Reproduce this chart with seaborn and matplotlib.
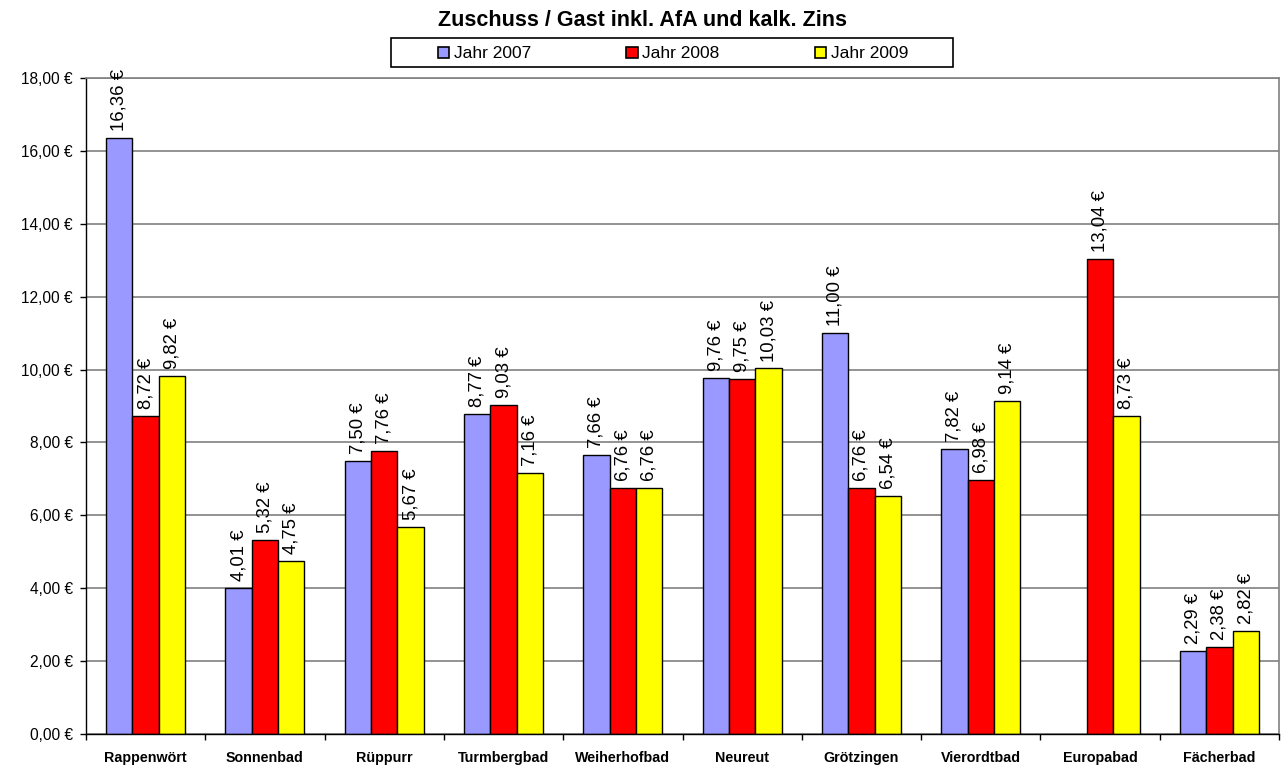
import matplotlib
matplotlib.use("Agg")
import matplotlib.pyplot as plt
from matplotlib.patches import Rectangle
import seaborn as sns
import pandas as pd
import numpy as np

categories = ["Rappenwört", "Sonnenbad", "Rüppurr", "Turmbergbad", "Weiherhofbad",
              "Neureut", "Grötzingen", "Vierordtbad", "Europabad", "Fächerbad"]
jahr_2007 = [16.36, 4.01, 7.50, 8.77, 7.66, 9.76, 11.00, 7.82, np.nan, 2.29]
jahr_2008 = [8.72, 5.32, 7.76, 9.03, 6.76, 9.75, 6.76, 6.98, 13.04, 2.38]
jahr_2009 = [9.82, 4.75, 5.67, 7.16, 6.76, 10.03, 6.54, 9.14, 8.73, 2.82]
series_names = ["Jahr 2007", "Jahr 2008", "Jahr 2009"]
colors = ["#9999FF", "#FF0000", "#FFFF00"]
yticks = [0, 2, 4, 6, 8, 10, 12, 14, 16, 18]

rows = []
for name, vals in zip(series_names, [jahr_2007, jahr_2008, jahr_2009]):
    for c, v in zip(categories, vals):
        rows.append({"Bad": c, "Serie": name, "Wert": v})
df = pd.DataFrame(rows)

sns.set_theme(style="white")
plt.rcParams['font.family'] = ['Liberation Sans', 'DejaVu Sans']
plt.rcParams['text.color'] = 'black'
plt.rcParams['xtick.color'] = 'black'
plt.rcParams['ytick.color'] = 'black'
plt.rcParams['axes.labelcolor'] = 'black'

W, H = 1282, 766
fig = plt.figure(figsize=(W / 100, H / 100), dpi=100)
L, R, T, B = 86, 1279, 78, 734
ax = fig.add_axes([L / W, 1 - B / H, (R - L) / W, (B - T) / H])

sns.barplot(data=df, x="Bad", y="Wert", hue="Serie", order=categories,
            hue_order=series_names, palette=colors, width=0.663,
            edgecolor="black", linewidth=1.0, ax=ax, saturation=1, legend=True,
            errorbar=None)

def fmt(v):
    return f"{v:.2f}".replace(".", ",") + " €"

for cont in ax.containers:
    labels = ["" if np.isnan(b.get_height()) else fmt(b.get_height()) for b in cont]
    ax.bar_label(cont, labels=labels, rotation=90, padding=5, fontsize=13.3,
                 color="black")

ax.set_ylim(0, 18)
ax.set_yticks(yticks)
ax.set_yticklabels([fmt(t) for t in yticks], fontsize=11.2)
ax.set_xlim(-0.5, len(categories) - 0.5)
ax.set_xticks(range(len(categories)))
ax.set_xticklabels(categories, fontsize=10.3, fontweight="bold")
ax.tick_params(axis="x", length=0, pad=12)
ax.tick_params(axis="y", length=4.5, direction="out", left=True, width=1,
               color="black", pad=5)
ax.set_xticks(np.arange(-0.5, len(categories), 1), minor=True)
ax.tick_params(axis="x", which="minor", length=4.5, direction="out", bottom=True,
               color="black", width=1)
ax.yaxis.grid(True, color="#808080", linewidth=1.2)
ax.set_axisbelow(True)
ax.set_xlabel("")
ax.set_ylabel("")
for s in ["left", "bottom"]:
    ax.spines[s].set_color("black")
    ax.spines[s].set_linewidth(1)
for s in ["top", "right"]:
    ax.spines[s].set_color("#808080")
    ax.spines[s].set_linewidth(1.2)

fig.text(643 / W, 1 - 20 / H, "Zuschuss / Gast inkl. AfA und kalk. Zins",
         fontsize=15.5, fontweight="bold", ha="center", va="center", color="black")

# legend frame
frame = Rectangle((391 / W, 1 - 67 / H), (953 - 391) / W, (67 - 38) / H,
                  transform=fig.transFigure, facecolor="white",
                  edgecolor="black", linewidth=1.2, zorder=5, clip_on=False)
ax.add_artist(frame)
leg = ax.legend(loc="center", bbox_to_anchor=(438 / W, 1 - 66 / H, (908 - 438) / W, 24 / H),
                bbox_transform=fig.transFigure, ncol=3, mode="expand", frameon=False,
                fontsize=12.5, handlelength=0.66, handleheight=0.66,
                handletextpad=0.25, borderpad=0, borderaxespad=0)
leg.set_zorder(10)
leg.set_title(None)
for h in leg.legend_handles:
    h.set_edgecolor("black")
    h.set_linewidth(1.2)
for t in leg.get_texts():
    t.set_color("black")

fig.savefig("out.png", dpi=100)
